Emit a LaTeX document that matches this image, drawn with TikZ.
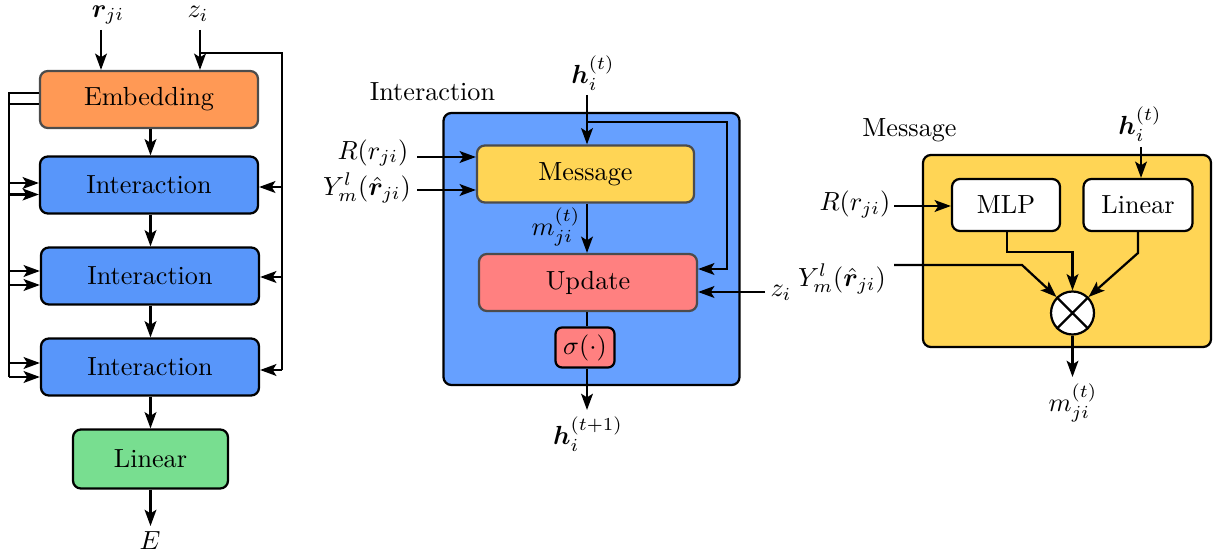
\documentclass[tikz,border=0pt]{standalone}
\usepackage{amsmath,bm}
\usetikzlibrary{arrows.meta,calc,shapes.geometric}
\def\px{0.3817pt}
\definecolor{embc}{RGB}{255,153,85}
\definecolor{intc}{RGB}{88,150,250}
\definecolor{bigc}{RGB}{102,160,255}
\definecolor{linc}{RGB}{120,222,144}
\definecolor{yelc}{RGB}{255,213,85}
\definecolor{updc}{RGB}{255,128,128}
\begin{document}
\begin{tikzpicture}[x=0.3817pt,y=-0.3817pt,line width=0.85pt,
  >={Stealth[length=6.2pt,width=4.5pt,inset=1.4pt]},
  box/.style={draw=black,rounded corners=3pt,inner sep=0pt,line width=0.85pt},
  lbl/.style={inner sep=0pt}]
\useasboundingbox (0,0) rectangle (1220,560);

% ---------------- left column ----------------
\node[box,fill=embc,draw=black!70,minimum width=218*\px,minimum height=57*\px] (emb) at (149,99.5) {Embedding};
\node[box,fill=intc,minimum width=218*\px,minimum height=57*\px] (int1) at (149,185) {Interaction};
\node[box,fill=intc,minimum width=218*\px,minimum height=57*\px] (int2) at (150,276) {Interaction};
\node[box,fill=intc,minimum width=218*\px,minimum height=57*\px] (int3) at (150,367) {Interaction};
\node[box,fill=linc,minimum width=155*\px,minimum height=59*\px] (lin) at (150.5,459) {Linear};

\node[lbl] (rl) at (108,15) {$\bm{r}_{ji}$};
\node[lbl] (zl) at (198,14) {$z_i$};
\node[lbl] (El) at (150,541) {$E$};

\coordinate (rs) at (101,30);
\draw[->] (rs) -- (rs |- emb.north);
\coordinate (zs) at (200,30);
\draw[->] (zs) -- (zs |- emb.north);
\coordinate (zb) at (200,53);
\draw (zb) -- (282,53) -- (282,370);
\coordinate (a1) at (282,187);
\coordinate (a2) at (282,277);
\coordinate (a3) at (282,370);
\draw[->] (a1) -- (a1 -| int1.east);
\draw[->] (a2) -- (a2 -| int2.east);
\draw[->] (a3) -- (a3 -| int3.east);

\coordinate (cx) at (150.5,0);
\draw[->] (cx |- emb.south) -- (cx |- int1.north);
\draw[->] (cx |- int1.south) -- (cx |- int2.north);
\draw[->] (cx |- int2.south) -- (cx |- int3.north);
\draw[->] (cx |- int3.south) -- (cx |- lin.north);
\draw[->] (cx |- lin.south) -- (150.5,526);

\coordinate (L1) at (9,93);
\coordinate (L2) at (9,104);
\draw (L1 -| emb.west) -- (L1) -- (9,363);
\draw (L2 -| emb.west) -- (L2) -- (9,377);
\foreach \y/\n in {183/int1,194.5/int1,271/int2,285/int2,363/int3,377/int3}{
  \coordinate (q) at (9,\y);
  \draw[->] (q) -- (q -| \n.west);
}

% ---------------- middle ----------------
\node[box,fill=bigc,minimum width=296*\px,minimum height=272*\px] (big) at (591.5,249) {};
\node[lbl] (intl) at (432.5,92) {Interaction};
\node[box,fill=yelc,draw=black!70,minimum width=217*\px,minimum height=57*\px] (msg) at (585.5,174) {Message};
\node[box,fill=updc,draw=black!70,minimum width=218*\px,minimum height=57*\px] (upd) at (588,282.5) {Update};
\node[box,fill=updc,rounded corners=2.5pt,minimum width=59*\px,minimum height=40*\px] (sig) at (585,347.5) {$\sigma(\cdot)$};

\node[lbl] (hl) at (593,73) {$\bm{h}_i^{(t)}$};
\node[lbl] (Rl) at (373,153) {$R(r_{ji})$};
\node[lbl] (Yl) at (367,188) {$Y_m^l(\hat{\bm{r}}_{ji})$};
\node[lbl] (ml) at (556,227) {$m_{ji}^{(t)}$};
\node[lbl] (zl2) at (781,293) {$z_i$};
\node[lbl] (hl2) at (588,434) {$\bm{h}_i^{(t+1)}$};

\coordinate (mx) at (587,0);
\coordinate (hs) at (587,95);
\draw[->] (hs) -- (hs |- msg.north);
\coordinate (lp) at (587,122);
\coordinate (lq) at (727,269);
\draw[->] (lp) -| (lq) -- (lq -| upd.east);
\coordinate (Ra) at (417,157);
\draw[->] (Ra) -- (Ra -| msg.west);
\coordinate (Ya) at (417,190);
\draw[->] (Ya) -- (Ya -| msg.west);
\draw[->] (mx |- msg.south) -- (mx |- upd.north);
\draw (mx |- upd.south) -- (mx |- sig.north);
\draw[->] (mx |- sig.south) -- (587,410);
\coordinate (za) at (765,292);
\draw[->] (za) -- (za -| upd.east);

% ---------------- right ----------------
\node[box,fill=yelc,minimum width=288*\px,minimum height=192*\px] (mbig) at (1067,251) {};
\node[lbl] (msgl) at (909.5,130) {Message};
\node[box,fill=white,minimum width=108*\px,minimum height=52*\px] (mlp) at (1006,205) {MLP};
\node[box,fill=white,minimum width=109*\px,minimum height=52*\px] (lin2) at (1138,205) {Linear};
\node[circle,draw,fill=white,line width=0.85pt,minimum size=43*\px,inner sep=0pt] (c) at (1072.5,313) {};
\draw (c.45) -- (c.225) (c.135) -- (c.315);

\node[lbl] (hl3) at (1140,124) {$\bm{h}_i^{(t)}$};
\node[lbl] (Rl3) at (855,204) {$R(r_{ji})$};
\node[lbl] (Yl3) at (842,279) {$Y_m^l(\hat{\bm{r}}_{ji})$};
\node[lbl] (ml3) at (1073,403) {$m_{ji}^{(t)}$};

\coordinate (hs3) at (1141,147);
\draw[->] (hs3) -- (hs3 |- lin2.north);
\coordinate (Ra3) at (894,206);
\draw[->] (Ra3) -- (Ra3 -| mlp.west);
\draw[->] (894,265) -- (1022,265) -- (c.135);
\coordinate (mb) at (1007,252);
\draw[->] (mb |- mlp.south) -- (mb) -| (c.north);
\coordinate (lb) at (1138,253);
\draw[->] (lb |- lin2.south) -- (lb) -- (c.45);
\draw[->] (c.south) -- (1072.5,377);
\end{tikzpicture}
\end{document}
